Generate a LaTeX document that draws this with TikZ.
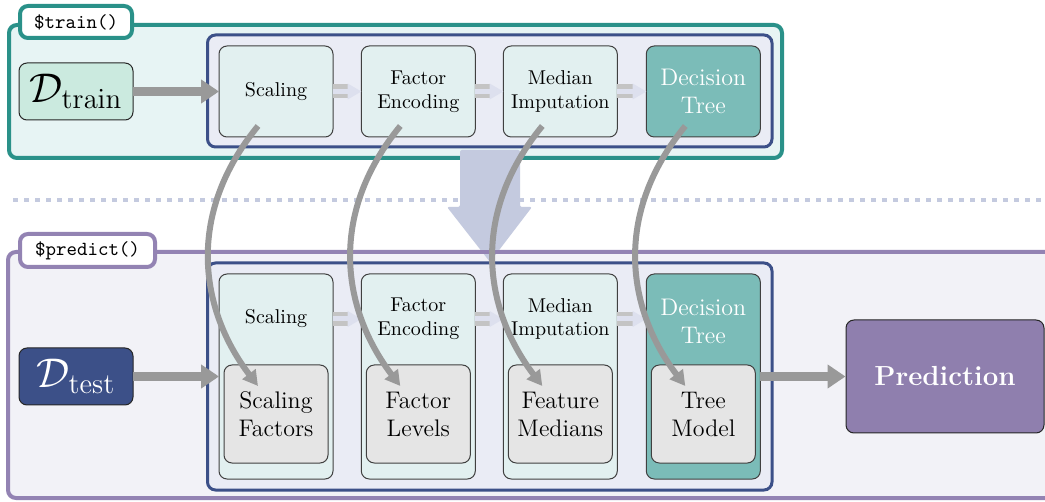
\documentclass[tikz,border=0pt]{standalone}
\usetikzlibrary{arrows.meta,calc}
\definecolor{tealb}{HTML}{2A9189}
\definecolor{trainbg}{HTML}{E7F4F4}
\definecolor{dtrainfill}{HTML}{CBEADF}
\definecolor{stagefill}{HTML}{E2F0F0}
\definecolor{innerbg}{HTML}{EAECF5}
\definecolor{blueb}{HTML}{3C5088}
\definecolor{dtfill}{HTML}{7BBCB8}
\definecolor{predbg}{HTML}{F2F2F7}
\definecolor{purpb}{HTML}{9383B3}
\definecolor{greyfill}{HTML}{E5E5E5}
\definecolor{predfill}{HTML}{8F7FAE}
\definecolor{arrgrey}{HTML}{999999}
\definecolor{dblouter}{HTML}{C4C4C4}
\definecolor{dblinner}{HTML}{DDE0EE}
\definecolor{bigarr}{HTML}{C4CADF}
\tikzset{
  frame/.style={draw, rounded corners=4pt, line width=2pt, inner sep=0pt, outer sep=0pt},
  trainframe/.style={frame, draw=tealb, fill=trainbg, minimum width=386.5pt, minimum height=66.5pt},
  predframe/.style={frame, draw=purpb, fill=predbg, minimum width=531pt, minimum height=123pt},
  lab/.style={frame, fill=white, font=\ttfamily, minimum width=56pt, minimum height=16pt},
  innerframe/.style={draw=blueb, fill=innerbg, line width=1.5pt, rounded corners=4pt, inner sep=0pt, outer sep=0pt, minimum width=282.25pt},
  stagebox/.style={draw=black!75, fill=stagefill, line width=0.5pt, rounded corners=4pt, align=center, inner sep=0pt, outer sep=0pt, minimum width=57pt},
  dtbox/.style={stagebox, fill=dtfill, text=white, font=\large},
  greybox/.style={draw=black!75, fill=greyfill, line width=0.5pt, rounded corners=4pt, align=center, inner sep=0pt, outer sep=0pt, minimum width=52pt, minimum height=49pt, font=\large},
  datbox/.style={draw=black!85, line width=0.5pt, rounded corners=4pt, inner sep=0pt, outer sep=0pt, minimum width=57pt, minimum height=28.5pt, font=\fontsize{21.5}{26}\selectfont},
  fatarrow/.style={draw=arrgrey, line width=4.5pt, -{Triangle[length=9pt,width=11.5pt]}},
  curvearrow/.style={draw=arrgrey, line width=3pt, -{Triangle[length=7.5pt,width=8pt]}},
  dblout/.style={draw=dblouter, line width=7pt},
  dblin/.style={draw=dblinner, line width=2.5pt},
  dblhead/.style={fill=dblinner},
}
\begin{document}
\begin{tikzpicture}[x=0.5pt,y=-0.5pt]
\clip (0,0) rectangle (1045,502);
\fill[white] (0,0) rectangle (1045,502);

% dotted separator
\coordinate (dl) at (13,200);
\coordinate (dr) at (1045,200);
\draw[bigarr, line width=1.6pt, dash pattern=on 2.6pt off 2.9pt] (dl) -- (dr);

% ---------- train ----------
\node[trainframe] (trainf) at (395.5,91.5) {};
\node[lab, draw=tealb] (trainlab) at (76,22) {\$train()};
\node[datbox, fill=dtrainfill] (dtrain) at (76,91.5) {$\mathcal{D}_{\mathrm{train}}$};
\node[innerframe, minimum height=56pt] (tinner) at (489.75,91) {};
\node[stagebox, minimum height=45.5pt] (ts1) at (276,91.5) {Scaling};
\node[stagebox, minimum height=45.5pt] (ts2) at (418.3,91.5) {Factor\\Encoding};
\node[stagebox, minimum height=45.5pt] (ts3) at (560.3,91.5) {Median\\Imputation};
\node[dtbox, minimum height=45.5pt] (ts4) at (703.3,91.5) {Decision\\Tree};

\foreach \a/\b in {ts1/ts2,ts2/ts3,ts3/ts4}{
  \draw[dblout] (\a.east) -- ([xshift=-6.5pt]\b.west);
  \draw[dblin] (\a.east) -- ([xshift=-6.5pt]\b.west);
  \fill[dblhead] ([xshift=-6.8pt,yshift=4pt]\b.west) -- (\b.west) -- ([xshift=-6.8pt,yshift=-4pt]\b.west) -- cycle;
}
\draw[fatarrow] (dtrain.east) -- (ts1.west);

% ---------- predict ----------
\node[predframe] (predf) at (539,375) {};
\node[lab, draw=purpb, minimum width=67.5pt, minimum height=16.5pt] (predlab) at (87.5,250.5) {\$predict()};

% big transfer arrow
\fill[bigarr, rounded corners=1pt] (460,150) -- (520,150) -- (520,207) -- (532,207) -- (490,262) -- (447,207) -- (460,207) -- cycle;
\draw[purpb, line width=2pt] ([xshift=-60pt]predf.north) -- ([xshift=0pt]predf.north);

\node[datbox, fill=blueb, text=white] (dtest) at (76,376.5) {$\mathcal{D}_{\mathrm{test}}$};
\node[innerframe, minimum height=113.5pt] (pinner) at (489.75,376.5) {};
\node[stagebox, minimum height=102.5pt] (bs1) at (276,376.5) {};
\node[stagebox, minimum height=102.5pt] (bs2) at (418.3,376.5) {};
\node[stagebox, minimum height=102.5pt] (bs3) at (560.3,376.5) {};
\node[stagebox, fill=dtfill, minimum height=102.5pt] (bs4) at (703.3,376.5) {};
\node[align=center, inner sep=0pt] (bl1) at (276,319) {Scaling};
\node[align=center, inner sep=0pt] (bl2) at (418.3,319) {Factor\\Encoding};
\node[align=center, inner sep=0pt] (bl3) at (560.3,319) {Median\\Imputation};
\node[align=center, inner sep=0pt, text=white, font=\large] (bl4) at (703.3,321) {Decision\\Tree};
\node[greybox] (gb1) at (276,414) {Scaling\\Factors};
\node[greybox] (gb2) at (418.3,414) {Factor\\Levels};
\node[greybox] (gb3) at (560.3,414) {Feature\\Medians};
\node[greybox] (gb4) at (703.3,414) {Tree\\Model};

\foreach \a/\b in {bs1/bs2,bs2/bs3,bs3/bs4}{
  \draw[dblout] ([yshift=28.75pt]\a.east) -- ([xshift=-6.5pt,yshift=28.75pt]\b.west);
  \draw[dblin] ([yshift=28.75pt]\a.east) -- ([xshift=-6.5pt,yshift=28.75pt]\b.west);
  \fill[dblhead] ([xshift=-6.8pt,yshift=32.75pt]\b.west) -- ([yshift=28.75pt]\b.west) -- ([xshift=-6.8pt,yshift=24.75pt]\b.west) -- cycle;
}

\node[draw=black!85, fill=predfill, line width=0.5pt, rounded corners=4pt, inner sep=0pt, minimum width=99pt, minimum height=56.5pt, text=white, font=\fontsize{13.8}{16}\selectfont\bfseries] (pred) at (945,376.5) {Prediction};

\draw[fatarrow] (dtest.east) -- (bs1.west);
\draw[fatarrow] (bs4.east) -- (pred.west);

% curved transfer arrows
\foreach \i in {1,2,3,4}{
  \coordinate (s\i) at ([xshift=-9pt,yshift=5.5pt]ts\i.south);
  \coordinate (e\i) at ([xshift=-9pt,yshift=-10.5pt]gb\i.north);
  \draw[curvearrow] (s\i) .. controls ($(s\i)+(-73,89)$) and ($(e\i)+(-58,-76)$) .. (e\i);
}
\end{tikzpicture}
\end{document}
